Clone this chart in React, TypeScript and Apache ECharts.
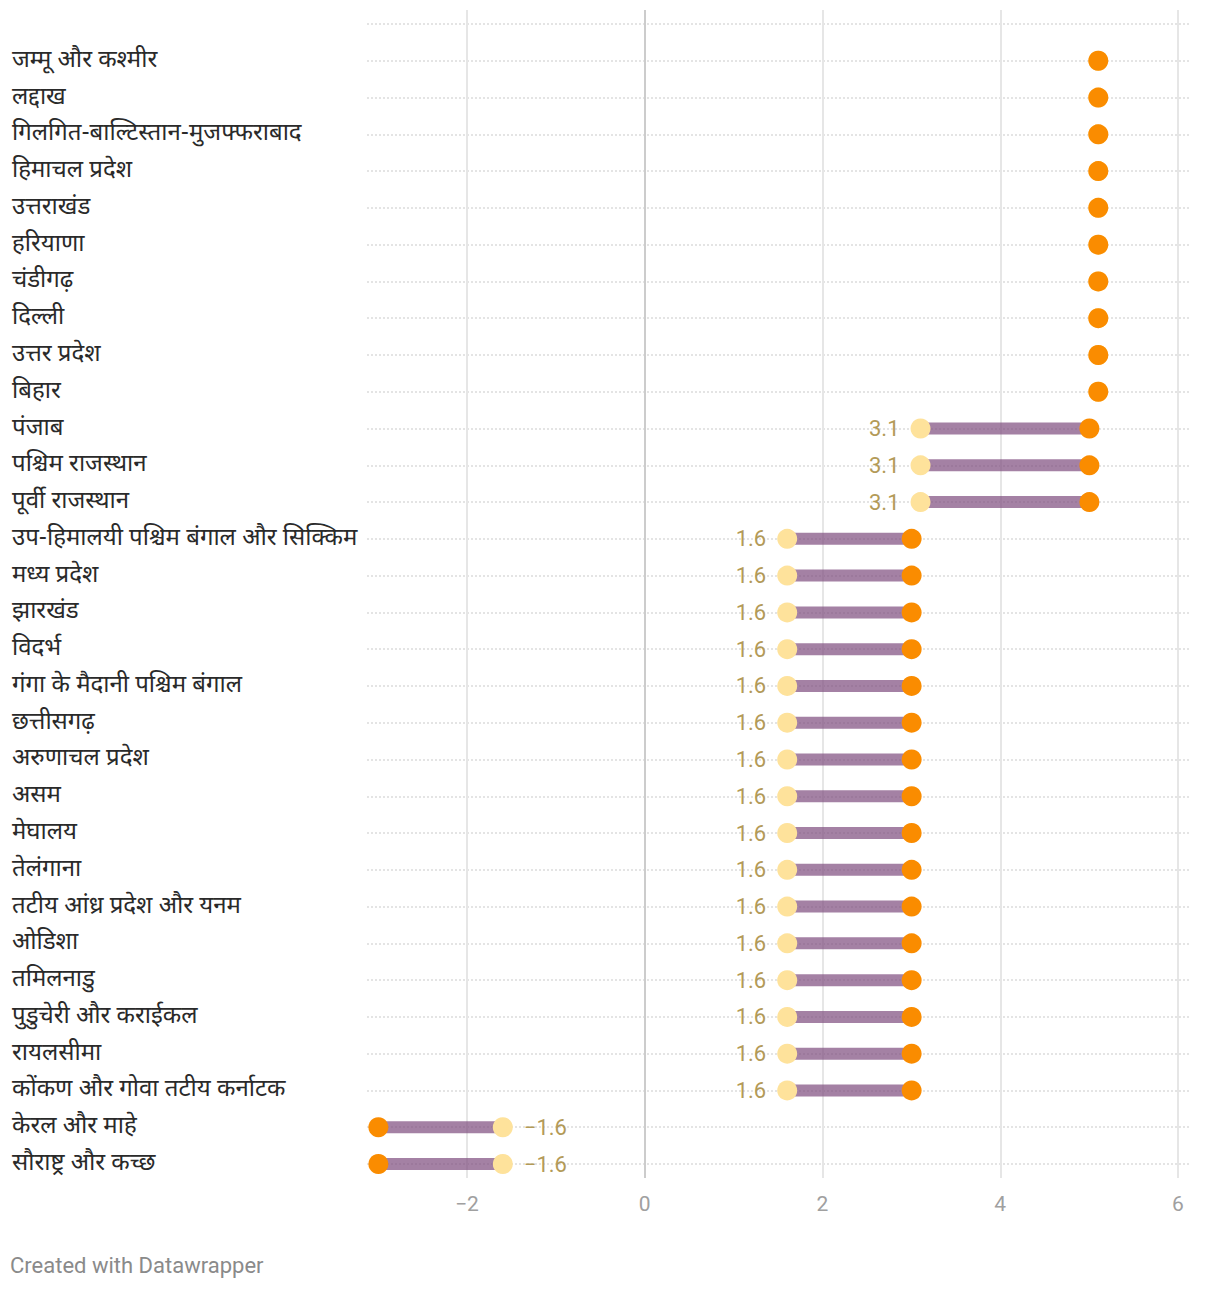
import React, { useEffect, useRef } from "react";
import * as echarts from "echarts";

const regions: string[] = [
  "जम्मू और कश्मीर",
  "लद्दाख",
  "गिलगित-बाल्टिस्तान-मुजफ्फराबाद",
  "हिमाचल प्रदेश",
  "उत्तराखंड",
  "हरियाणा",
  "चंडीगढ़",
  "दिल्ली",
  "उत्तर प्रदेश",
  "बिहार",
  "पंजाब",
  "पश्चिम राजस्थान",
  "पूर्वी राजस्थान",
  "उप-हिमालयी पश्चिम बंगाल और सिक्किम",
  "मध्य प्रदेश",
  "झारखंड",
  "विदर्भ",
  "गंगा के मैदानी पश्चिम बंगाल",
  "छत्तीसगढ़",
  "अरुणाचल प्रदेश",
  "असम",
  "मेघालय",
  "तेलंगाना",
  "तटीय आंध्र प्रदेश और यनम",
  "ओडिशा",
  "तमिलनाडु",
  "पुडुचेरी और कराईकल",
  "रायलसीमा",
  "कोंकण और गोवा तटीय कर्नाटक",
  "केरल और माहे",
  "सौराष्ट्र और कच्छ",
];

// yellow end (labelled value)
const startValues: number[] = [
  5.1, 5.1, 5.1, 5.1, 5.1, 5.1, 5.1, 5.1, 5.1, 5.1,
  3.1, 3.1, 3.1,
  1.6, 1.6, 1.6, 1.6, 1.6, 1.6, 1.6, 1.6, 1.6, 1.6, 1.6, 1.6, 1.6, 1.6, 1.6, 1.6,
  -1.6, -1.6,
];

// orange end
const endValues: number[] = [
  5.1, 5.1, 5.1, 5.1, 5.1, 5.1, 5.1, 5.1, 5.1, 5.1,
  5.0, 5.0, 5.0,
  3.0, 3.0, 3.0, 3.0, 3.0, 3.0, 3.0, 3.0, 3.0, 3.0, 3.0, 3.0, 3.0, 3.0, 3.0, 3.0,
  -3.0, -3.0,
];

const xTicks: number[] = [-2, 0, 2, 4, 6];

const FONT = 'Roboto, "Noto Sans", sans-serif';
const DEVA_FONT = '"Noto Sans Devanagari", "Noto Sans", Roboto, sans-serif';

const fmt = (v: number) => (v < 0 ? "\u2212" + Math.abs(v) : String(v));

export default function App() {
  const ref = useRef<HTMLDivElement>(null);

  useEffect(() => {
    document.body.style.margin = "0";
    if (!ref.current) return;
    const chart = echarts.init(ref.current, null, { renderer: "svg" });

    const categories = ["", ...regions];

    const option: any = {
      animation: false,
      backgroundColor: "#ffffff",
      textStyle: { fontFamily: FONT },
      title: {
        text: "Created with Datawrapper",
        left: 10,
        top: 1254,
        padding: 0,
        textStyle: { fontFamily: FONT, fontSize: 22, fontWeight: "normal", color: "#8a8a8a" },
      },
      grid: [
        { left: 467, right: 42, top: 10, bottom: 114 },
        { left: 367, right: 30, top: 24, bottom: 128 },
      ],
      xAxis: [
        {
          gridIndex: 0,
          type: "value",
          min: xTicks[0],
          max: xTicks[xTicks.length - 1],
          interval: 2,
          axisLine: { show: false },
          axisTick: { show: false },
          axisLabel: {
            margin: 15,
            fontSize: 21,
            color: "#a0a0a0",
            fontFamily: FONT,
            formatter: (v: number) => fmt(v),
          },
          splitLine: {
            show: true,
            lineStyle: {
              color: ["#e6e6e6", "#cccccc", "#e6e6e6", "#e6e6e6", "#e6e6e6"],
              width: 2,
            },
          },
        },
        {
          gridIndex: 1,
          type: "value",
          min: -3.128,
          max: 6.132,
          show: false,
          splitLine: { show: false },
        },
      ],
      yAxis: [
        {
          gridIndex: 0,
          type: "value",
          show: false,
          splitLine: { show: false },
        },
        {
          gridIndex: 1,
          type: "category",
          data: categories,
          inverse: true,
          boundaryGap: false,
          axisLine: { show: false },
          axisTick: { show: false },
          axisLabel: {
            align: "left",
            margin: 355,
            fontSize: 24,
            color: "#2a2a2a",
            fontFamily: DEVA_FONT,
            padding: [7, 0, 0, 0],
          },
          splitLine: {
            show: true,
            lineStyle: { color: "#e4e4e4", width: 2, type: [2, 2] },
          },
        },
      ],
      series: [
        {
          type: "custom",
          xAxisIndex: 1,
          yAxisIndex: 1,
          z: 2,
          encode: { x: [0, 1], y: 2 },
          data: regions.map((r, i) => [startValues[i], endValues[i], r]),
          renderItem: (params: any, api: any) => {
            const s = api.value(0);
            const e = api.value(1);
            const y = api.value(2);
            const p1 = api.coord([s, y]);
            const p2 = api.coord([e, y]);
            return {
              type: "line",
              shape: { x1: p1[0], y1: p1[1], x2: p2[0], y2: p2[1] },
              style: { stroke: "#7e4b7e", opacity: 0.7, lineWidth: 12, lineCap: "butt" },
            };
          },
        },
        {
          type: "scatter",
          xAxisIndex: 1,
          yAxisIndex: 1,
          z: 3,
          symbolSize: 20,
          itemStyle: { color: "#fee29b", opacity: 1 },
          data: regions.map((r, i) => ({
            value: [startValues[i], r],
            label: {
              show: startValues[i] !== endValues[i],
              position: startValues[i] < 0 ? "right" : "left",
            },
          })),
          label: {
            show: true,
            distance: 11,
            fontSize: 22,
            color: "#b39a58",
            fontFamily: FONT,
            formatter: (p: any) => fmt(p.value[0]),
          },
        },
        {
          type: "scatter",
          xAxisIndex: 1,
          yAxisIndex: 1,
          z: 4,
          symbolSize: 20,
          itemStyle: { color: "#fa8c00", opacity: 1 },
          data: regions.map((r, i) => [endValues[i], r]),
        },
      ],
    };

    chart.setOption(option);
    return () => chart.dispose();
  }, []);

  return <div ref={ref} style={{ width: 1220, height: 1292 }} />;
}
